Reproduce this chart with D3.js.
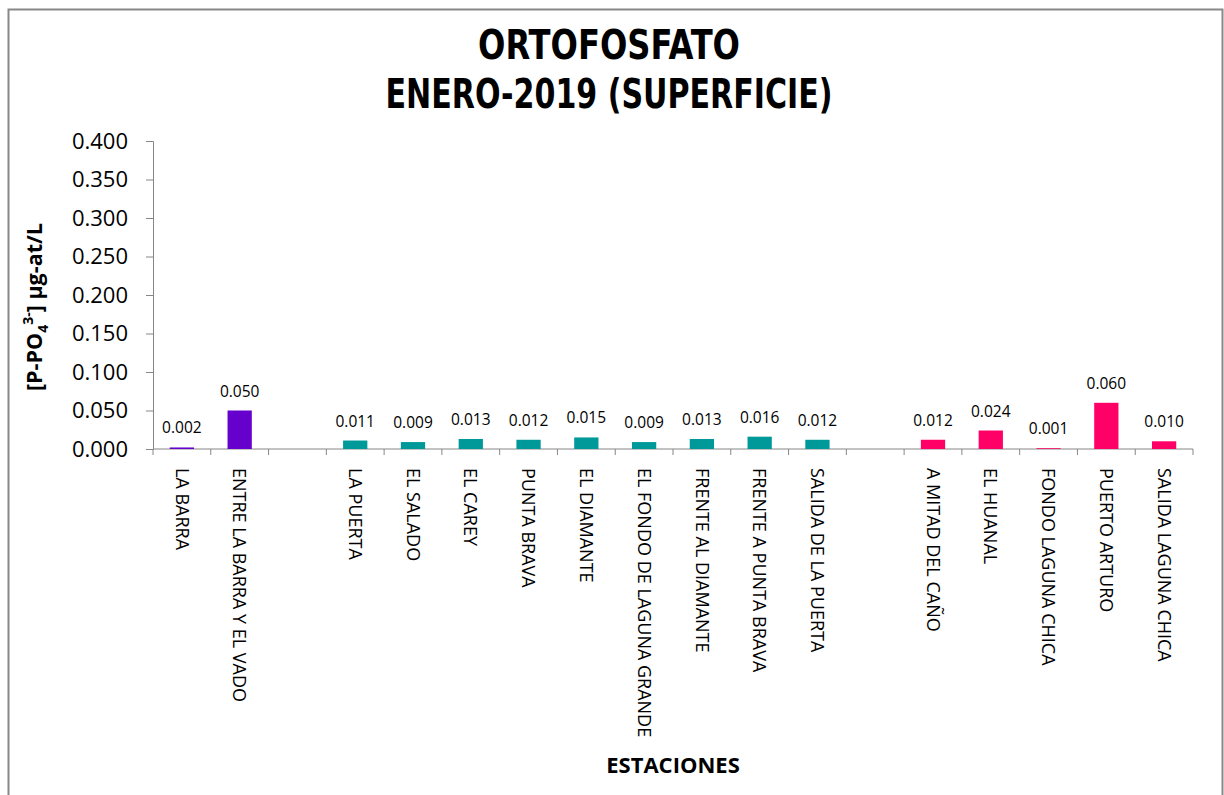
<!DOCTYPE html>
<html>
<head>
<meta charset="utf-8">
<script src="https://cdn.jsdelivr.net/npm/d3@7"></script>
<style>
  body { margin: 0; background: #fff; }
  text { font-family: "Open Sans", sans-serif; }
</style>
</head>
<body>
<script>
const stations = ["LA BARRA", "ENTRE LA BARRA Y EL VADO", "",
  "LA PUERTA", "EL SALADO", "EL CAREY", "PUNTA BRAVA", "EL DIAMANTE",
  "EL FONDO DE LAGUNA GRANDE", "FRENTE AL DIAMANTE", "FRENTE A PUNTA BRAVA", "SALIDA DE LA PUERTA", "",
  "A MITAD DEL CAÑO", "EL HUANAL", "FONDO LAGUNA CHICA", "PUERTO ARTURO", "SALIDA LAGUNA CHICA"]
const values = [0.002, 0.050, null,
  0.011, 0.009, 0.013, 0.012, 0.015, 0.009, 0.013, 0.016, 0.012, null,
  0.012, 0.024, 0.001, 0.060, 0.010]
const groups = [0, 0, -1, 1, 1, 1, 1, 1, 1, 1, 1, 1, -1, 2, 2, 2, 2, 2]
const groupColors = ["#6600cc", "#009999", "#ff0066"]
const yTicks = [0, 0.05, 0.1, 0.15, 0.2, 0.25, 0.3, 0.35, 0.4]

const width = 1224, height = 795
const margin = {left: 153, right: 31, top: 141, bottom: 346}

const svg = d3.select("body")
    .append("svg")
    .attr("width", width)
    .attr("height", height)

// chart frame (bottom edge falls outside the picture)
svg.append("rect")
    .attr("x", 8.5).attr("y", 9.5)
    .attr("width", 1214).attr("height", 820)
    .attr("fill", "none")
    .attr("stroke", "#888")
    .attr("stroke-width", 2)

const x = d3.scaleBand()
    .domain(d3.range(stations.length))
    .range([margin.left, width - margin.right])
    .paddingInner(0.58)
    .paddingOuter(0.29)

const y = d3.scaleLinear()
    .domain([0, 0.4])
    .range([height - margin.bottom, margin.top])

const step = x.step()

// y axis
const yAxis = svg.append("g")
    .attr("transform", `translate(${margin.left},0)`)
    .call(d3.axisLeft(y).tickValues(yTicks).tickFormat(d3.format(".3f")).tickSize(7).tickPadding(18))
yAxis.select(".domain").attr("stroke", "#868686")
yAxis.selectAll(".tick line").attr("stroke", "#868686")
yAxis.selectAll(".tick text")
    .attr("font-size", 22)
    .attr("fill", "#000")

// x axis line + ticks at band edges
const x0 = margin.left, x1 = width - margin.right, yb = y(0)
svg.append("line")
    .attr("x1", x0).attr("x2", x1).attr("y1", yb).attr("y2", yb)
    .attr("stroke", "#868686")
svg.selectAll(".xtick")
    .data(d3.range(stations.length + 1))
    .join("line")
    .attr("class", "xtick")
    .attr("x1", d => x0 + d * step).attr("x2", d => x0 + d * step)
    .attr("y1", yb).attr("y2", yb + 6)
    .attr("stroke", "#868686")

// bars
const data = values.map((v, i) => ({i, v, g: groups[i]})).filter(d => d.v !== null)

svg.selectAll(".bar")
    .data(data)
    .join("rect")
    .attr("class", "bar")
    .attr("x", d => x(d.i))
    .attr("width", x.bandwidth())
    .attr("y", d => y(d.v))
    .attr("height", d => y(0) - y(d.v))
    .attr("fill", d => groupColors[d.g])

// value labels
svg.selectAll(".val")
    .data(data)
    .join("text")
    .attr("class", "val")
    .attr("x", d => x(d.i) + x.bandwidth() / 2)
    .attr("y", d => y(d.v) - 14)
    .attr("text-anchor", "middle")
    .attr("font-size", 15.5)
    .text(d => d3.format(".3f")(d.v))

// station names, vertical
svg.selectAll(".lab")
    .data(stations)
    .join("text")
    .attr("class", "lab")
    .attr("transform", (d, i) => `translate(${x(i) + x.bandwidth() / 2},468) rotate(90)`)
    .attr("dy", "0.35em")
    .attr("font-size", 18)
    .text(d => d)

// axis titles
svg.append("text")
    .attr("x", 673).attr("y", 773)
    .attr("text-anchor", "middle")
    .attr("font-size", 22)
    .attr("font-weight", "bold")
    .text("ESTACIONES")

const yt = svg.append("text")
    .attr("transform", "translate(42,307) rotate(-90)")
    .attr("text-anchor", "middle")
    .attr("font-size", 21.5)
    .attr("font-weight", "bold")
yt.append("tspan").text("[P-PO")
yt.append("tspan").attr("font-size", 14).attr("dy", 6).text("4")
yt.append("tspan").attr("font-size", 14).attr("dy", -15).text("3-")
yt.append("tspan").attr("dy", 9).text("] µg-at/L")

// title (condensed face, stretched to the reference widths)
const titleLines = ["ORTOFOSFATO", "ENERO-2019 (SUPERFICIE)"]
const titleWidths = [262, 447]
svg.selectAll(".title")
    .data(titleLines)
    .join("text")
    .attr("class", "title")
    .attr("x", 609)
    .attr("y", (d, i) => 59 + i * 49)
    .attr("text-anchor", "middle")
    .style("font-family", "'DejaVu Sans Condensed', 'DejaVu Sans', sans-serif")
    .attr("font-weight", "bold")
    .attr("font-size", 41)
    .attr("textLength", (d, i) => titleWidths[i])
    .attr("lengthAdjust", "spacingAndGlyphs")
    .text(d => d)
</script>
</body>
</html>
